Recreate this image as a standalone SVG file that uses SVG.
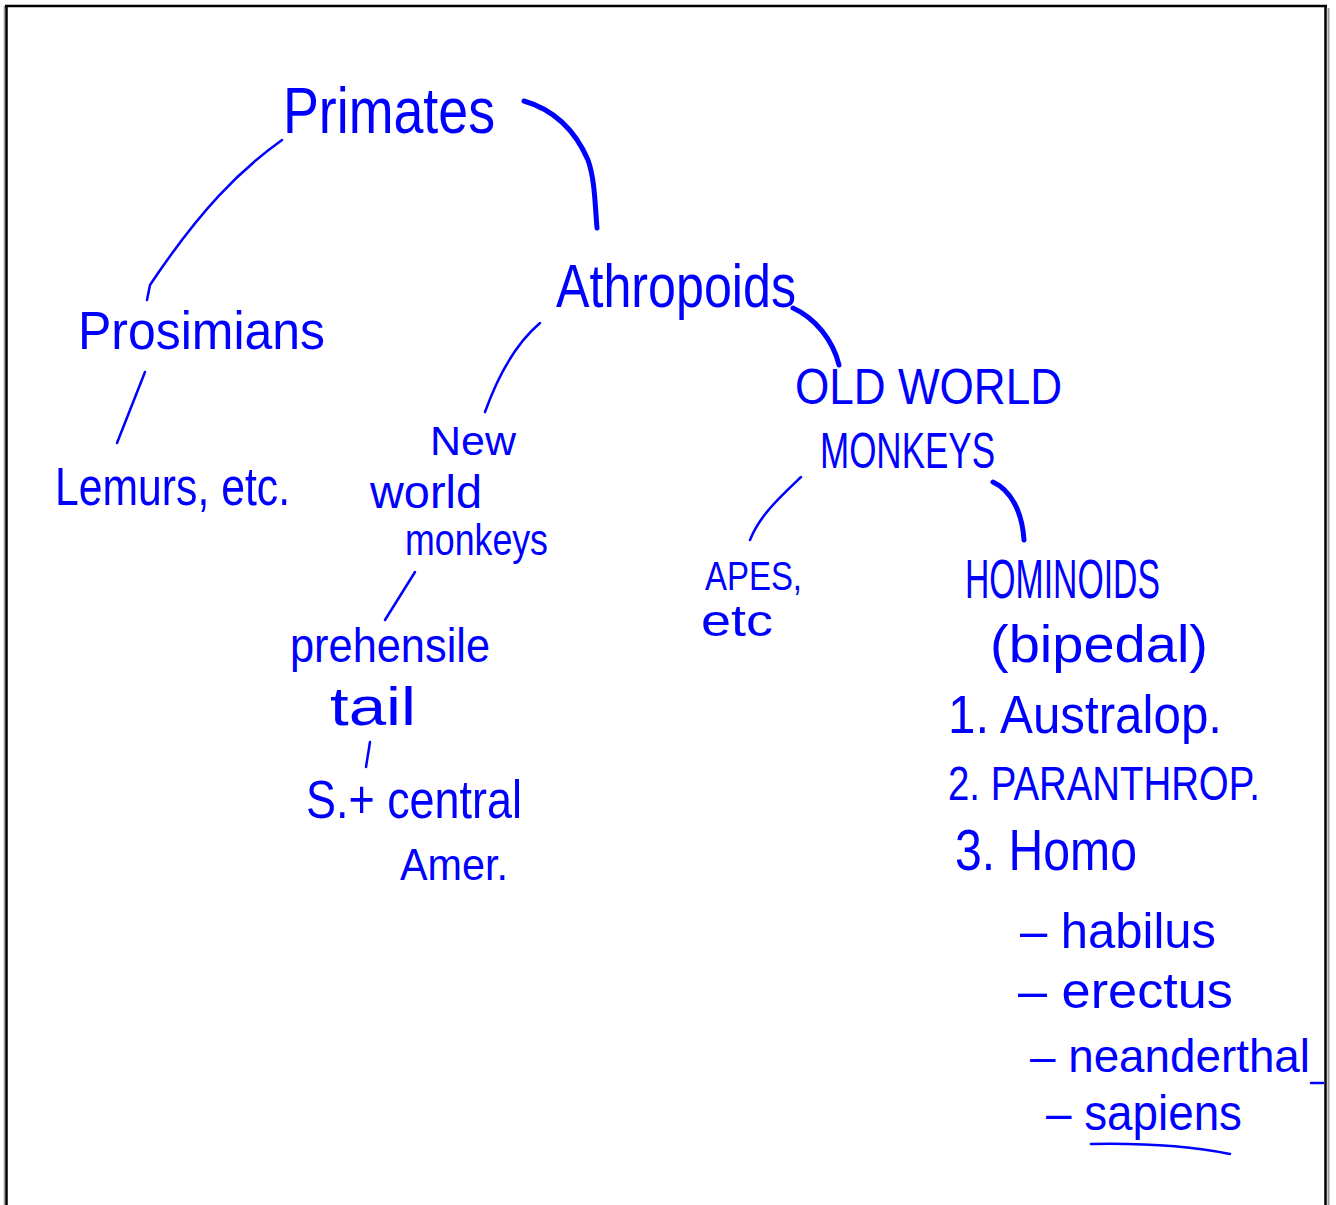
<svg xmlns="http://www.w3.org/2000/svg" width="1336" height="1205" viewBox="0 0 1336 1205">
<style>
.t{font-family:"Liberation Sans",Arial,sans-serif;fill:#0000ff;}
.c{fill:none;stroke:#0000ff;stroke-linecap:round;stroke-linejoin:round;}
.thin{stroke-width:2.5;}
.thick{stroke-width:5;}
</style>
<rect width="1336" height="1205" fill="#ffffff"/>
<g id="frame">
<line x1="4.5" y1="6" x2="4.5" y2="1205" stroke="#999" stroke-width="1.5"/>
<line x1="6.5" y1="6" x2="6.5" y2="1205" stroke="#000" stroke-width="2.5"/>
<line x1="5" y1="6" x2="1327" y2="6" stroke="#000" stroke-width="2.5"/>
<line x1="1325.5" y1="6" x2="1325.5" y2="1205" stroke="#000" stroke-width="2.5"/>
<line x1="1328.5" y1="8" x2="1328.5" y2="1205" stroke="#999" stroke-width="2"/>
</g>
<g id="connectors">
<path class="c thin" d="M282,140 C240,170 200,210 150,285 L147,300"/>
<path class="c thick" d="M524,101 C555,110 575,130 588,160 C595,180 595,205 597,228"/>
<path class="c thin" d="M145,372 L117,443"/>
<path class="c thin" d="M540,323 C520,340 500,370 485,412"/>
<path class="c thick" d="M793,308 C815,318 833,340 839,365"/>
<path class="c thin" d="M415,572 L385,620"/>
<path class="c thin" d="M370,742 L366,767"/>
<path class="c thin" d="M801,477 C780,497 760,515 750,540"/>
<path class="c thick" d="M993,482 C1010,490 1022,510 1024,540"/>
</g>
<g id="primates"><text class="t" x="283" y="133" font-size="64" textLength="212" lengthAdjust="spacingAndGlyphs">Primates</text></g>
<g id="prosimians"><text class="t" x="78" y="349" font-size="54" textLength="247" lengthAdjust="spacingAndGlyphs">Prosimians</text></g>
<g id="lemurs"><text class="t" x="55" y="505" font-size="54" textLength="235" lengthAdjust="spacingAndGlyphs">Lemurs, etc.</text></g>
<g id="athropoids"><text class="t" x="556" y="307" font-size="62" textLength="240" lengthAdjust="spacingAndGlyphs">Athropoids</text></g>
<g id="new-world-monkeys">
<text class="t" x="430" y="455" font-size="40" textLength="86" lengthAdjust="spacingAndGlyphs">New</text>
<text class="t" x="370" y="508" font-size="46" textLength="112" lengthAdjust="spacingAndGlyphs">world</text>
<text class="t" x="405" y="555" font-size="44" textLength="143" lengthAdjust="spacingAndGlyphs">monkeys</text>
</g>
<g id="prehensile-tail">
<text class="t" x="290" y="662" font-size="48" textLength="200" lengthAdjust="spacingAndGlyphs">prehensile</text>
<text class="t" x="330" y="725" font-size="54" textLength="86" lengthAdjust="spacingAndGlyphs">tail</text>
</g>
<g id="central-amer">
<text class="t" x="306" y="818" font-size="54" textLength="216" lengthAdjust="spacingAndGlyphs">S.+ central</text>
<text class="t" x="400" y="880" font-size="44" textLength="108" lengthAdjust="spacingAndGlyphs">Amer.</text>
</g>
<g id="old-world-monkeys">
<text class="t" x="795" y="404" font-size="50" textLength="267" lengthAdjust="spacingAndGlyphs">OLD WORLD</text>
<text class="t" x="820" y="468" font-size="50" textLength="175" lengthAdjust="spacingAndGlyphs">MONKEYS</text>
</g>
<g id="apes">
<text class="t" x="705" y="590" font-size="40" textLength="97" lengthAdjust="spacingAndGlyphs">APES,</text>
<text class="t" x="701" y="636" font-size="44" textLength="72" lengthAdjust="spacingAndGlyphs">etc</text>
</g>
<g id="hominoids">
<text class="t" x="965" y="598" font-size="56" textLength="195" lengthAdjust="spacingAndGlyphs">HOMINOIDS</text>
<text class="t" x="990" y="662" font-size="52" textLength="218" lengthAdjust="spacingAndGlyphs">(bipedal)</text>
<text class="t" x="948" y="733" font-size="54" textLength="274" lengthAdjust="spacingAndGlyphs">1. Australop.</text>
<text class="t" x="948" y="800" font-size="48" textLength="312" lengthAdjust="spacingAndGlyphs">2. PARANTHROP.</text>
<text class="t" x="955" y="870" font-size="58" textLength="182" lengthAdjust="spacingAndGlyphs">3. Homo</text>
</g>
<g id="species">
<text class="t" x="1020" y="948" font-size="50" textLength="196" lengthAdjust="spacingAndGlyphs">– habilus</text>
<text class="t" x="1018" y="1008" font-size="50" textLength="215" lengthAdjust="spacingAndGlyphs">– erectus</text>
<text class="t" x="1030" y="1072" font-size="46" textLength="280" lengthAdjust="spacingAndGlyphs">– neanderthal</text>
<line class="c thin" x1="1311" y1="1083" x2="1323" y2="1083"/>
<text class="t" x="1046" y="1130" font-size="50" textLength="196" lengthAdjust="spacingAndGlyphs">– sapiens</text>
<path class="c thin" d="M1091,1144 C1140,1143 1190,1146 1230,1154"/>
</g>
</svg>
